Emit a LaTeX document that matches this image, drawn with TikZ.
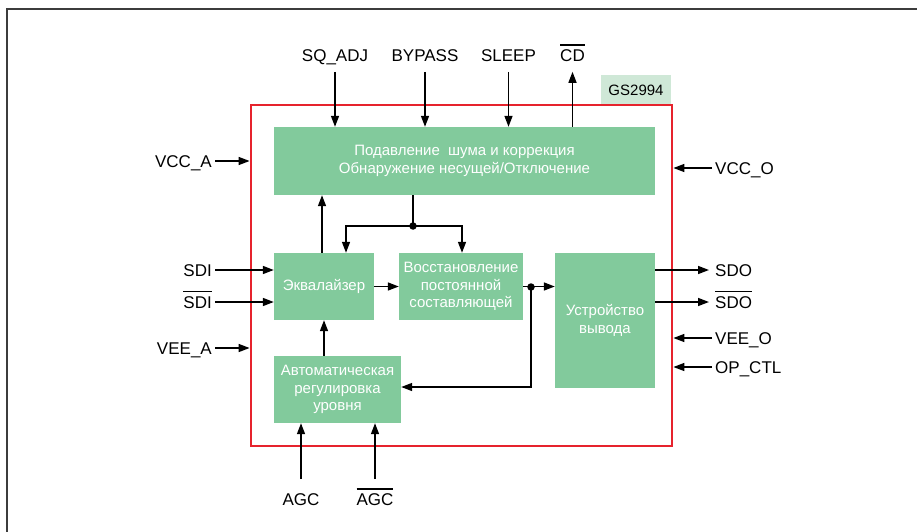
\documentclass[tikz,border=0pt]{standalone}
\usepackage{fontspec}
\setmainfont{Liberation Sans}
\usetikzlibrary{arrows.meta}
\definecolor{blockgreen}{RGB}{130,202,156}
\definecolor{lightgreen}{RGB}{207,232,215}
\definecolor{chipred}{RGB}{230,35,45}
\definecolor{framegray}{RGB}{60,60,60}
\newcommand\obar[1]{\vbox{\hrule height 1.3pt\kern 4pt\hbox{#1}}}
\begin{document}
\begin{tikzpicture}[x=1pt,y=-1pt,
  block/.style={fill=blockgreen, text=white, font=\fontsize{15}{17.5}\selectfont, align=center, inner sep=0pt, draw=none},
  lbl/.style={font=\fontsize{17}{20}\selectfont, inner sep=3pt, text height=12.2pt, text depth=0pt},
  arr/.style={line width=1.5pt, -{Triangle[length=11pt,width=8pt]}},
  wire/.style={line width=1.5pt},
  dot/.style={circle, fill=black, inner sep=0pt, minimum size=7.5pt}]
\useasboundingbox (0,0) rectangle (917,532);
% outer frame (L-shape)
\draw[framegray, line width=2.2pt] (7,532) -- (7,9) -- (917,9);
% chip outline
\node[draw=chipred, line width=2.8pt, minimum width=421pt, minimum height=341pt, inner sep=0pt] (chip) at (461.5,275.5) {};
\node[fill=lightgreen, minimum width=70pt, minimum height=29pt, inner sep=0pt, font=\fontsize{15}{18}\selectfont] (gs) at (636,90) {GS2994};
% blocks
\node[block, minimum width=381pt, minimum height=68pt] (top) at (464.5,161) {Подавление~ шума и коррекция\\Обнаружение несущей/Отключение};
\node[block, minimum width=100pt, minimum height=67pt] (eq) at (324,286.5) {Эквалайзер};
\node[block, minimum width=124pt, minimum height=67pt] (dc) at (461,286.5) {Восстановление\\постоянной\\составляющей};
\node[block, minimum width=127pt, minimum height=67pt] (agc) at (337.5,389.5) {Автоматическая\\регулировка\\уровня};
\node[block, minimum width=100pt, minimum height=135pt] (out) at (605,320.5) {Устройство\\вывода};
% top labels
\node[lbl] (sq) at (335,55.5) {SQ\_ADJ};
\node[lbl] (byp) at (425,55.5) {BYPASS};
\node[lbl] (slp) at (508.5,55.5) {SLEEP};
\node[lbl] (cd) at (572.5,55.5) {\obar{CD}};
\draw[arr] ([yshift=-7pt]sq.south) -- (sq.south |- top.north);
\draw[arr] ([yshift=-7pt]byp.south) -- (byp.south |- top.north);
\draw[arr] ([yshift=-7pt]slp.south) -- (slp.south |- top.north);
\draw[arr] (cd.south |- top.north) -- ([yshift=-7pt]cd.south);
% left labels
\node[lbl, anchor=east] (vcca) at (215,161) {VCC\_A};
\node[lbl, anchor=east] (sdi) at (215,270) {SDI};
\node[lbl, anchor=east] (sdin) at (215,302) {\obar{SDI}};
\node[lbl, anchor=east] (veea) at (215,348) {VEE\_A};
\draw[arr] (vcca.east) -- (vcca.east -| chip.west);
\draw[arr] (sdi.east) -- (sdi.east -| eq.west);
\draw[arr] (sdin.east) -- (sdin.east -| eq.west);
\draw[arr] (veea.east) -- (veea.east -| chip.west);
% right labels
\node[lbl, anchor=west] (vcco) at (712,168) {VCC\_O};
\node[lbl, anchor=west] (sdo) at (712,270) {SDO};
\node[lbl, anchor=west] (sdon) at (712,302) {\obar{SDO}};
\node[lbl, anchor=west] (veeo) at (712,338) {VEE\_O};
\node[lbl, anchor=west] (opctl) at (712,367) {OP\_CTL};
\draw[arr] (vcco.west) -- (vcco.west -| chip.east);
\draw[arr] (sdo.west -| out.east) -- ([xshift=-3pt]sdo.west);
\draw[arr] (sdon.west -| out.east) -- ([xshift=-3pt]sdon.west);
\draw[arr] (veeo.west) -- (veeo.west -| chip.east);
\draw[arr] (opctl.west) -- (opctl.west -| chip.east);
% bottom labels
\node[lbl] (agcl) at (301,499.5) {AGC};
\node[lbl] (agcn) at (375,499.5) {\obar{AGC}};
\draw[arr] ([yshift=11pt]agcl.north) -- (agcl.north |- agc.south);
\draw[arr] ([yshift=11pt]agcn.north) -- (agcn.north |- agc.south);
% internal connections
\coordinate (j1) at (413,226);
\coordinate (j2) at (531,287);
\draw[wire] (top.south -| j1) -- (j1);
\draw[arr] (j1) -| ([xshift=22pt]eq.north);
\draw[arr] (j1) -| ([xshift=1pt]dc.north);
\node[dot] at (j1) {};
\draw[arr] ([xshift=-2pt]eq.north) -- ([xshift=-2pt]eq.north |- top.south);
\draw[arr] (agc.north -| eq.south) -- (eq.south);
\draw[arr] (eq.east) -- (dc.west);
\draw[arr] (dc.east) -- (out.west |- dc.east);
\draw[arr] (j2) |- ([yshift=2.5pt]agc.east);
\node[dot] at (j2) {};
\end{tikzpicture}
\end{document}
